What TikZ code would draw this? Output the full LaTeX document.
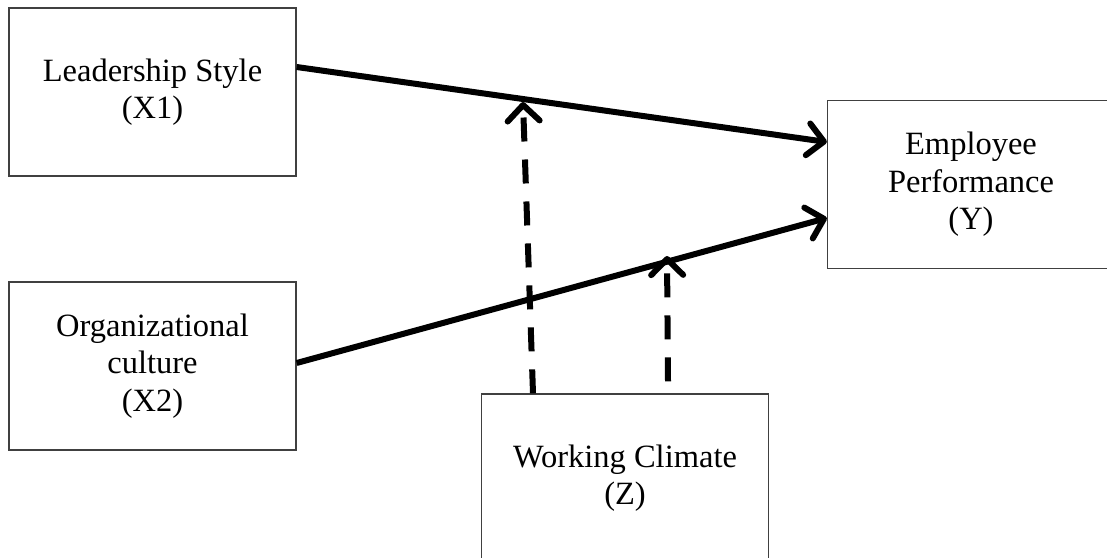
\documentclass[tikz,border=0pt]{standalone}
\usepackage{fontspec}
\setmainfont{Liberation Serif}
\usetikzlibrary{arrows.meta}
\begin{document}
\begin{tikzpicture}[x=1pt,y=-1pt,
 box/.style={draw=black!75, line width=1.3pt, minimum width=287pt, minimum height=168pt, inner sep=0pt, align=center, font=\fontsize{32.5}{37.5}\selectfont},
 arr/.style={line width=6pt, -{Straight Barb[length=16pt,width=32pt,line cap=round,line join=round]}},
 darr/.style={arr, dash pattern=on 24pt off 18pt}]
\clip (0,0) rectangle (1107,557);
\fill[white] (0,0) rectangle (1107,557);
\node[box] (x1) at (152.5,92) {Leadership Style\\(X1)};
\node[box] (x2) at (152.5,366) {Organizational\\culture\\(X2)};
\node[box] (y) at (971,184.5) {Employee\\Performance\\(Y)};
\node[box] (z) at (625,478) {Working Climate\\(Z)};
\coordinate (m1) at (523,102);
\coordinate (m2) at (667,256);
\draw[arr] ([yshift=25pt]x1.east) -- ([yshift=42.5pt]y.west);
\draw[arr] ([yshift=3pt]x2.east) -- ([yshift=-33.5pt]y.west);
\draw[darr] ([xshift=-92pt]z.north) -- (m1);
\draw[darr] ([xshift=43pt,yshift=12pt]z.north) -- (m2);
\end{tikzpicture}
\end{document}
